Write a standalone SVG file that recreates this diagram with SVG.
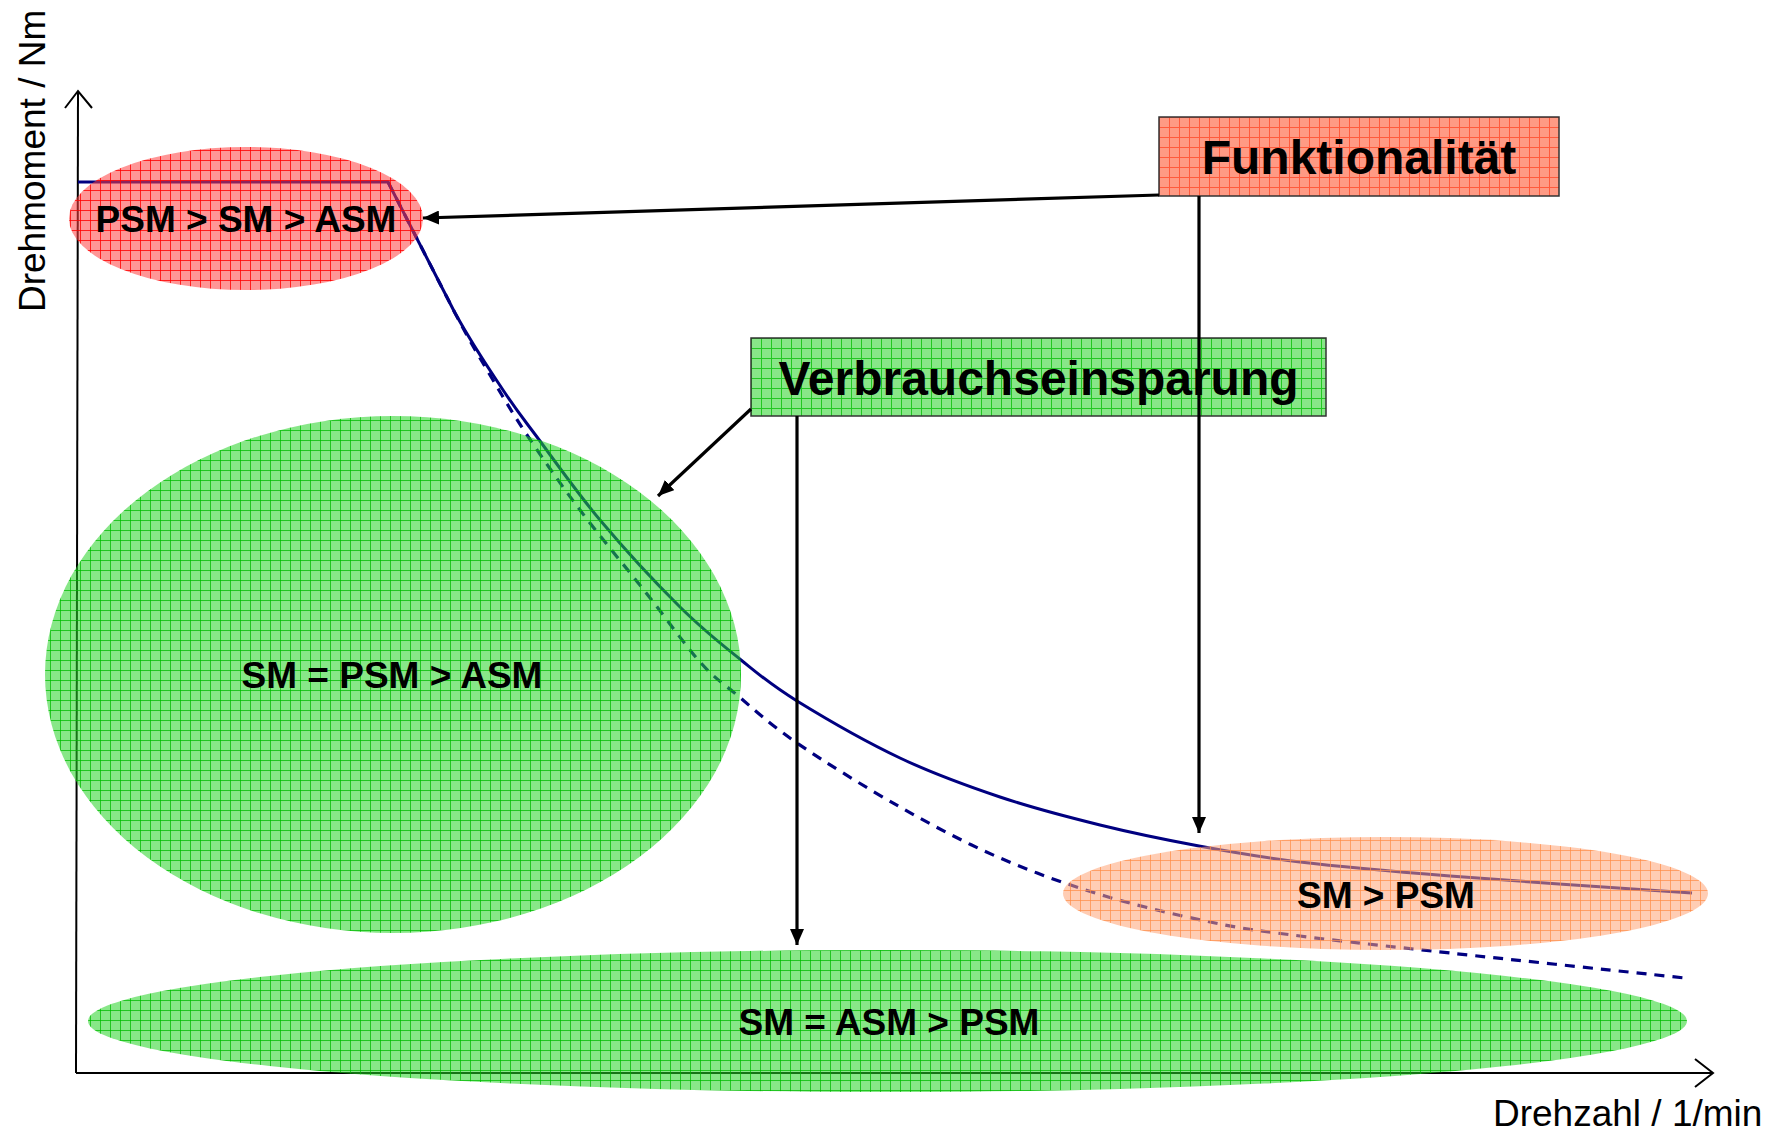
<svg xmlns="http://www.w3.org/2000/svg" width="1773" height="1132" viewBox="0 0 1773 1132">
<style>
.ax{stroke:#000;stroke-width:2;fill:none}
.crv{stroke:#000080;fill:none;stroke-linejoin:round;stroke-linecap:butt}
.lbl{font-family:"Liberation Sans",Arial,sans-serif;font-weight:bold;font-size:37px;fill:#000;text-anchor:middle}
.big{font-family:"Liberation Sans",Arial,sans-serif;font-weight:bold;font-size:48px;fill:#000;text-anchor:middle}
.axl{font-family:"Liberation Sans",Arial,sans-serif;font-size:37px;fill:#000}
.con{stroke:#000;stroke-width:3.2;fill:none}
.box{stroke:#333;stroke-width:1.5}
</style>
<defs>
<pattern id="pG" width="10" height="10" patternUnits="userSpaceOnUse">
<rect width="10" height="10" fill="#27D227" fill-opacity="0.55"/>
<path d="M0,0.5H10M0.5,0V10" stroke="#00BA00" stroke-opacity="0.75" stroke-width="1"/>
</pattern>
<pattern id="pR" width="10" height="10" patternUnits="userSpaceOnUse">
<rect width="10" height="10" fill="#FF4040" fill-opacity="0.55"/>
<path d="M0,0.5H10M0.5,0V10" stroke="#FF0000" stroke-opacity="0.8" stroke-width="1"/>
</pattern>
<pattern id="pO" width="10" height="10" patternUnits="userSpaceOnUse">
<rect width="10" height="10" fill="#FFA477" fill-opacity="0.55"/>
<path d="M0,0.5H10M0.5,0V10" stroke="#FF8C46" stroke-opacity="0.7" stroke-width="1"/>
</pattern>
<pattern id="pFB" x="1159" y="117" width="10" height="10" patternUnits="userSpaceOnUse">
<rect width="10" height="10" fill="#FF9A84"/>
<path d="M0,0.5H10M0.5,0V10" stroke="#FF5A3C" stroke-width="1"/>
</pattern>
<pattern id="pGB" x="751" y="338" width="10" height="10" patternUnits="userSpaceOnUse">
<rect width="10" height="10" fill="#88E688"/>
<path d="M0,0.5H10M0.5,0V10" stroke="#22C822" stroke-width="1"/>
</pattern>
<marker id="ah" viewBox="0 0 16 14" refX="16" refY="7" markerWidth="16" markerHeight="14" markerUnits="userSpaceOnUse" orient="auto">
<path d="M0,0L16,7L0,14z" fill="#000"/>
</marker>
</defs>

<g id="axes">
<line class="ax" x1="78" y1="91" x2="76" y2="1073"/>
<line class="ax" x1="76" y1="1073" x2="1713" y2="1073"/>
<path class="ax" d="M65,108L78,91L92,108"/>
<path class="ax" d="M1695,1059L1713,1073L1695,1087"/>
<text class="axl" transform="translate(45,312) rotate(-90)">Drehmoment / Nm</text>
<text class="axl" x="1493" y="1126">Drehzahl / 1/min</text>
</g>

<g id="curves">
<path id="curve-dashed" class="crv" stroke-width="3.2" stroke-dasharray="10 8" d="M388,182L455,313C472,345.2 478,354.7 490,375C502,395.3 512,412.5 527,435C542,457.5 560,483.5 580,510C600,536.5 627,568.7 647,594C667,619.3 685,645.2 700,662C715,678.8 720.8,681.5 737,695C753.2,708.5 769.8,724.3 797,743C824.2,761.7 866.2,787.8 900,807C933.8,826.2 965.8,843.2 1000,858C1034.2,872.8 1069.2,885.2 1105,896C1140.8,906.8 1182.5,916.3 1215,923C1247.5,929.7 1260.8,931 1300,936C1339.2,941 1385.8,946 1450,953C1514.2,960 1645.8,973.8 1685,978"/>
<path id="curve-solid" class="crv" stroke-width="3" d="M78,182L388,182L455,313C474.2,347.7 489.3,369.3 503,390C516.7,410.7 520.8,415.3 537,437C553.2,458.7 576.2,491.7 600,520C623.8,548.3 656.5,583.7 680,607C703.5,630.3 721.5,644.3 741,660C760.5,675.7 770.5,684.7 797,701C823.5,717.3 866.2,742 900,758C933.8,774 966.7,785.8 1000,797C1033.3,808.2 1066.8,816.8 1100,825C1133.2,833.2 1165.7,839.8 1199,846C1232.3,852.2 1258.2,857 1300,862C1341.8,867 1384.7,870.8 1450,876C1515.3,881.2 1651.7,890.2 1692,893"/>
</g>

<g id="node-psm-sm-asm">
<ellipse cx="246" cy="218.5" rx="177" ry="71.5" fill="url(#pR)"/>
<text class="lbl" x="246" y="232">PSM &gt; SM &gt; ASM</text>
</g>
<g id="node-sm-psm-asm">
<ellipse cx="393" cy="674.5" rx="348" ry="258.5" fill="url(#pG)"/>
<text class="lbl" x="392" y="688">SM = PSM &gt; ASM</text>
</g>
<g id="node-sm-psm">
<ellipse cx="1385.5" cy="893.5" rx="322.5" ry="56.5" fill="url(#pO)"/>
<text class="lbl" x="1386" y="908">SM &gt; PSM</text>
</g>
<g id="node-sm-asm-psm">
<ellipse cx="887.5" cy="1021" rx="799.5" ry="71" fill="url(#pG)"/>
<text class="lbl" x="889" y="1035">SM = ASM &gt; PSM</text>
</g>
<g id="node-funktionalitaet">
<rect class="box" x="1159" y="117" width="400" height="79" fill="url(#pFB)"/>
<text class="big" x="1359" y="174">Funktionalität</text>
</g>
<g id="node-verbrauchseinsparung">
<rect class="box" x="751" y="338" width="575" height="78" fill="url(#pGB)"/>
<text class="big" x="1038.5" y="395">Verbrauchseinsparung</text>
</g>

<g id="connectors">
<line class="con" x1="1159" y1="195" x2="423" y2="218" marker-end="url(#ah)"/>
<line class="con" x1="1199" y1="196" x2="1199" y2="833" marker-end="url(#ah)"/>
<line class="con" x1="751" y1="409" x2="658" y2="496" marker-end="url(#ah)"/>
<line class="con" x1="797" y1="416" x2="797" y2="945" marker-end="url(#ah)"/>
</g>
</svg>
